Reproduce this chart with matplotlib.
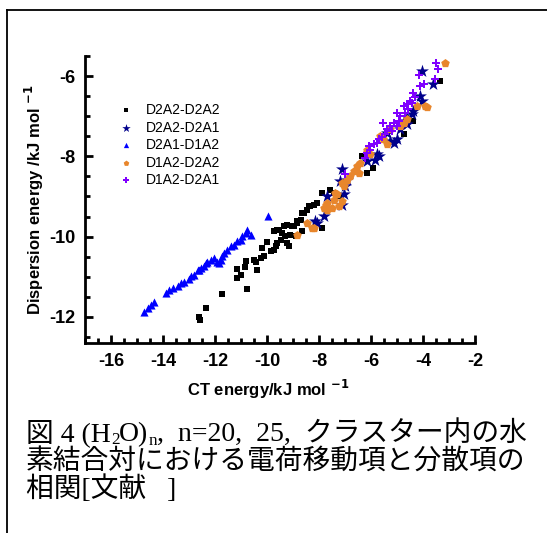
import matplotlib
matplotlib.use("Agg")
import matplotlib.pyplot as plt
from matplotlib.lines import Line2D
from matplotlib.ticker import MultipleLocator

# D2A2-D2A2 (black squares)
ct_d2a2_d2a2 = [-12.61, -12.58, -12.36, -11.75, -10.78, -11.14, -11.01, -10.86, -11.14, -10.82,
                -10.50, -10.37, -10.41, -10.25, -10.12, -9.99, -10.18, -9.86, -9.74, -9.67,
                -9.61, -9.48, -9.74, -9.61, -9.41, -9.29, -9.16, -9.35, -9.22, -9.03,
                -8.84, -8.71, -8.58, -8.46, -8.33, -8.20, -7.88, -7.56, -7.43, -7.24,
                -7.88, -8.90, -8.65, -9.22, -8.39, -8.07, -8.65, -8.84, -8.97, -9.54,
                -9.10, -6.35, -5.92, -6.15, -4.75, -4.37, -3.34]
disp_d2a2_d2a2 = [-11.99, -12.08, -11.77, -11.43, -11.31, -11.03, -10.95, -10.76, -10.81, -10.60,
                  -10.58, -10.83, -10.62, -10.53, -10.49, -10.14, -10.28, -10.37, -10.33, -10.24,
                  -10.16, -10.08, -9.87, -9.83, -9.91, -9.99, -10.24, -9.74, -9.70, -9.74,
                  -9.66, -9.58, -9.41, -9.33, -9.24, -9.20, -8.91, -8.83, -8.91, -8.99,
                  -9.78, -9.99, -9.87, -10.16, -9.24, -9.16, -9.41, -9.62, -9.74, -9.83,
                  -9.95, -7.99, -8.28, -8.41, -7.45, -7.12, -6.12]

# D2A2-D2A1 (navy stars)
ct_d2a2_d2a1 = [-4.04, -3.60, -4.11, -4.04, -4.37, -4.43, -4.62, -4.75, -4.62, -5.00,
                -5.13, -5.26, -5.71, -5.84, -5.77, -6.15, -7.11, -6.92, -7.05, -7.11,
                -7.69, -7.82, -8.14, -5.39, -4.88, -8.07, -7.18, -6.99]
disp_d2a2_d2a1 = [-5.88, -6.20, -6.49, -6.62, -6.87, -6.95, -7.03, -7.12, -7.20, -7.58,
                  -7.66, -7.62, -7.99, -8.08, -7.95, -8.12, -8.31, -8.58, -8.95, -9.20,
                  -8.99, -9.49, -9.62, -7.41, -7.33, -9.66, -8.62, -8.74]

# D2A1-D1A2 (blue triangles)
ct_d2a1_d1a2 = [-14.72, -14.59, -14.47, -14.34, -13.89, -13.76, -13.63, -13.44, -13.31, -13.19,
                -13.00, -12.93, -12.80, -12.67, -12.61, -12.55, -12.42, -12.36, -12.29, -12.16,
                -12.04, -11.91, -11.84, -11.78, -11.72, -11.65, -11.52, -11.40, -11.27, -11.14,
                -11.01, -10.95, -10.82, -10.76, -10.63, -9.97]
disp_d2a1_d1a2 = [-11.87, -11.78, -11.70, -11.62, -11.41, -11.33, -11.28, -11.24, -11.16, -11.12,
                  -11.06, -10.99, -10.95, -10.84, -10.83, -10.78, -10.74, -10.66, -10.62, -10.58,
                  -10.53, -10.62, -10.66, -10.58, -10.49, -10.41, -10.33, -10.24, -10.20, -10.12,
                  -10.08, -9.99, -9.91, -9.83, -9.95, -9.49]

# D1A2-D2A2 (orange pentagons)
ct_d1a2_d2a2 = [-8.84, -8.46, -8.20, -7.82, -7.69, -7.43, -7.24, -7.11, -7.30, -3.15,
                -3.92, -3.85, -4.75, -4.88, -5.64, -6.15, -6.03, -6.41, -6.54, -6.67,
                -6.47, -6.79, -6.92, -7.11, -7.05, -7.37, -7.50, -7.75, -7.69, -8.26,
                -5.52, -5.39, -4.62, -5.26, -4.24, -6.15]
disp_d1a2_d2a2 = [-9.95, -9.66, -9.78, -9.28, -9.16, -9.08, -9.24, -9.12, -8.95, -5.67,
                  -6.74, -6.78, -7.16, -7.24, -7.49, -7.83, -7.95, -8.16, -8.24, -8.37,
                  -8.41, -8.49, -8.58, -8.66, -8.74, -8.91, -9.28, -9.20, -9.33, -9.78,
                  -7.58, -7.70, -7.08, -7.33, -6.74, -7.90]

# D1A2-D2A1 (violet)
ct_d1a2_d2a1 = [-3.50, -3.43, -3.53, -4.17, -3.98, -4.11, -4.37, -4.30, -4.49, -4.62,
                -4.56, -4.68, -4.88, -5.00, -4.94, -5.13, -5.26, -5.39, -5.52, -5.45,
                -5.58, -5.71, -5.77, -5.90, -6.03, -6.09, -6.15, -6.22, -6.99, -4.75,
                -4.43, -5.00, -5.19]
disp_d1a2_d2a1 = [-5.67, -5.82, -6.08, -5.97, -6.20, -6.24, -6.41, -6.53, -6.62, -6.70,
                  -6.83, -6.91, -6.99, -6.91, -7.12, -7.16, -7.24, -7.33, -7.16, -7.45,
                  -7.53, -7.58, -7.66, -7.70, -7.83, -7.74, -7.91, -8.03, -8.45, -6.74,
                  -6.66, -7.24, -7.37]

W, H = 547, 533
plt.rcParams['font.family'] = 'Liberation Sans'
plt.rcParams['axes.unicode_minus'] = False

fig = plt.figure(figsize=(W / 100, H / 100), dpi=100)
ax = fig.add_axes([85 / W, 1 - 343 / H, 390 / W, 287 / H])

ax.scatter(ct_d2a2_d2a2, disp_d2a2_d2a2, marker='s', s=24, color='black', lw=0, label='D2A2-D2A2')
ax.scatter(ct_d2a2_d2a1, disp_d2a2_d2a1, marker='*', s=95, color='#00008B', lw=0, label='D2A2-D2A1')
ax.scatter(ct_d2a1_d1a2, disp_d2a1_d1a2, marker='^', s=34, color='#0000FF', lw=0, label='D2A1-D1A2')
ax.scatter(ct_d1a2_d2a2, disp_d1a2_d2a2, marker='p', s=42, color='#E8862C', lw=0, label='D1A2-D2A2')
ax.scatter(ct_d1a2_d2a1, disp_d1a2_d2a1, marker='P', s=34, color='#8000FF', lw=0, label='D1A2-D2A1')

ax.set_xlim(-17, -2)
ax.set_ylim(-12.65, -5.5)
ax.xaxis.set_major_locator(MultipleLocator(2))
ax.xaxis.set_minor_locator(MultipleLocator(0.5))
ax.yaxis.set_major_locator(MultipleLocator(2))
ax.yaxis.set_minor_locator(MultipleLocator(0.5))

for side in ['top', 'right']:
    ax.spines[side].set_visible(False)
for side in ['left', 'bottom']:
    ax.spines[side].set_linewidth(2.0)
ax.tick_params(which='major', direction='in', length=6, width=2, labelsize=13, pad=7)
ax.tick_params(which='minor', direction='in', length=3.5, width=2)
for lab in ax.get_xticklabels() + ax.get_yticklabels():
    lab.set_fontweight('bold')

ax.set_xlabel('CT energy/kJ mol $^{\\mathbf{-1}}$', fontsize=12, fontweight='bold')
ax.set_ylabel('Dispersion energy /kJ mol $^{\\mathbf{-1}}$', fontsize=12, fontweight='bold')
ax.xaxis.set_label_coords(0.47, -0.12)
ax.yaxis.set_label_coords(-0.1, 0.5)

ax.legend(loc='upper left', bbox_to_anchor=(0.07, 0.86), frameon=False, fontsize=10,
          handlelength=1.0, handletextpad=0.9, labelspacing=0.25, borderpad=0,
          markerscale=0.65)

# frame around the figure
fig.add_artist(Line2D([7 / W, 1], [1 - 9.5 / H, 1 - 9.5 / H], transform=fig.transFigure,
                      color='black', lw=1.3))
fig.add_artist(Line2D([7 / W, 7 / W], [0, 1 - 9.5 / H], transform=fig.transFigure,
                      color='black', lw=1.3))

# caption
cap_font = ['Liberation Serif', 'Noto Sans CJK JP']
cap_size = 20
renderer = fig.canvas.get_renderer()


def draw_runs(x0, y0, runs):
    x = x0
    for s, size, dy in runs:
        t = fig.text(x / W, 1 - (y0 - dy) / H, s, family=cap_font, fontsize=size, va='baseline')
        x += t.get_window_extent(renderer).width


draw_runs(26, 441, [('図 4 (H', cap_size, 0), ('2', cap_size * 0.62, -3), ('O)', cap_size, 0),
                    ('n', cap_size * 0.62, -4), (',  n=20,  25,  クラスター内の水', cap_size, 0)])
draw_runs(26, 469, [('素結合対における電荷移動項と分散項の', cap_size, 0)])
draw_runs(26, 497, [('相関[文献   ]', cap_size, 0)])

fig.savefig('out.png', dpi=100)
